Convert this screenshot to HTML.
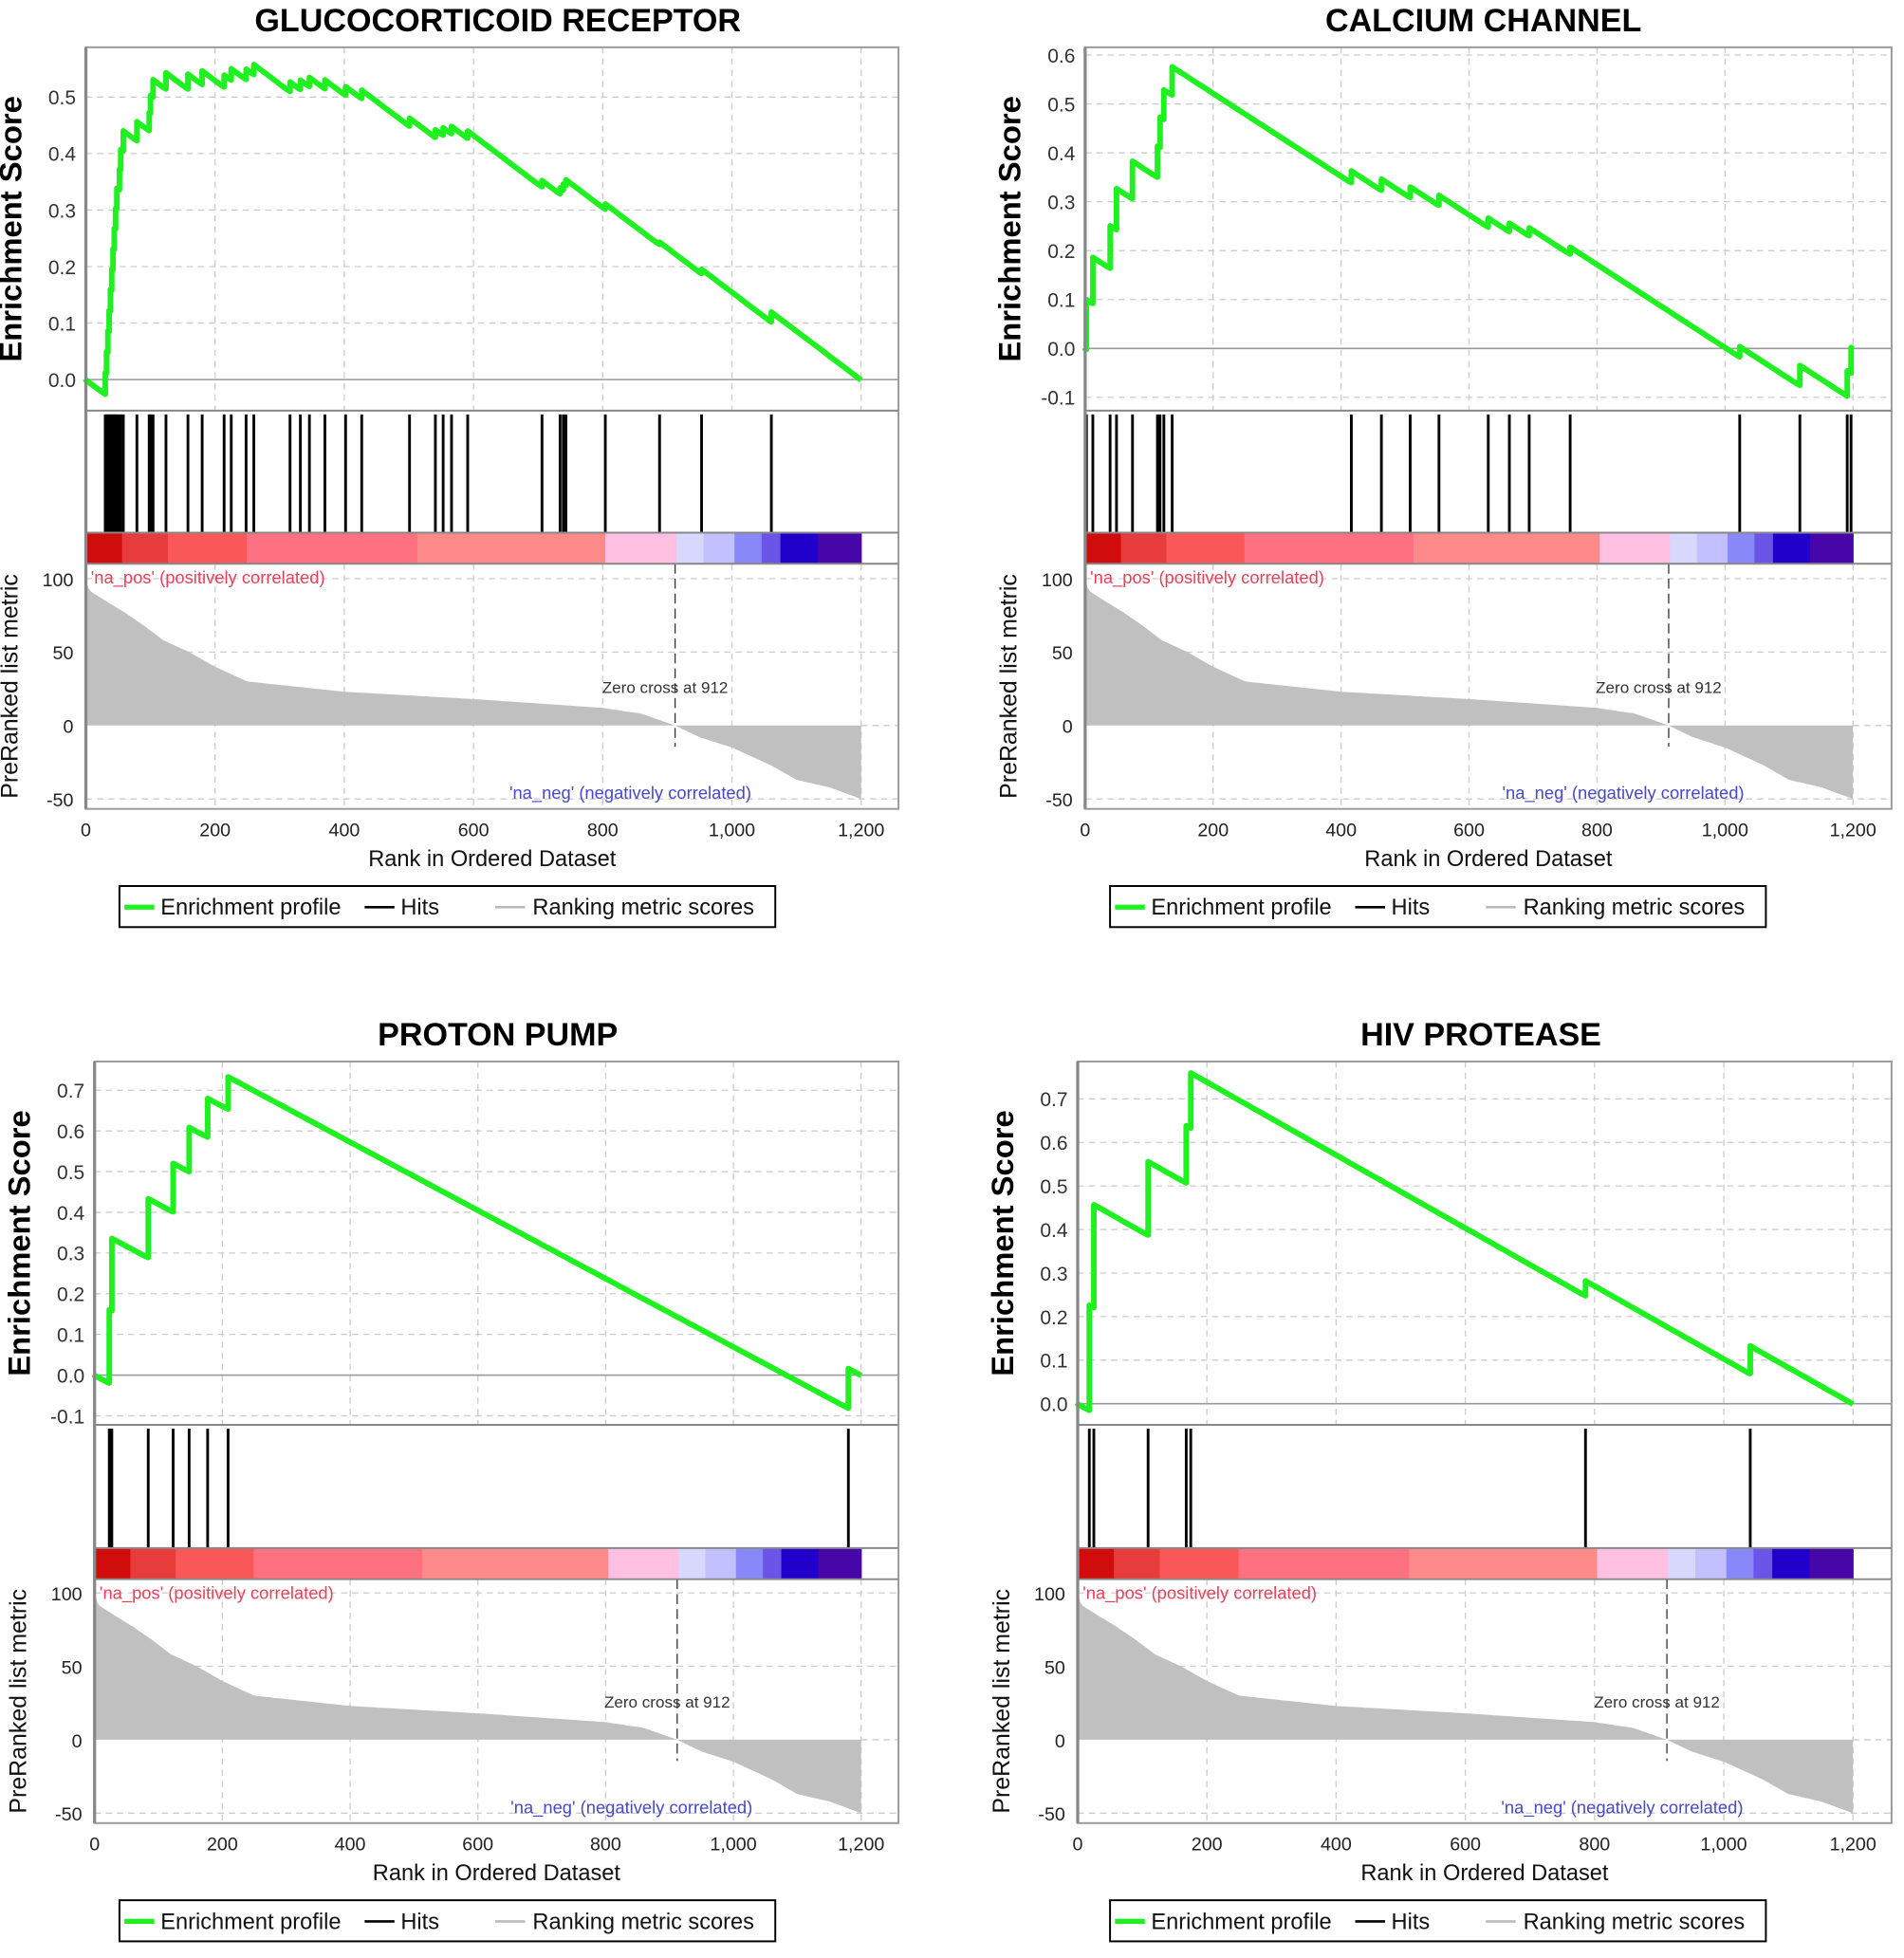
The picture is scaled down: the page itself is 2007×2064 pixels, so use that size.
<!DOCTYPE html>
<html><head><meta charset="utf-8">
<style>
html,body{margin:0;padding:0;background:#fff;}
svg{display:block;}
text{font-family:"Liberation Sans","DejaVu Sans",sans-serif;}
</style></head>
<body>
<svg id="s" xmlns="http://www.w3.org/2000/svg" width="2007" height="2064" viewBox="0 0 1530 1573.4" preserveAspectRatio="none"></svg>
<script>
const S=document.getElementById('s');
const NS='http://www.w3.org/2000/svg';
function el(t,a,txt){const e=document.createElementNS(NS,t);for(const k in a)e.setAttribute(k,a[k]);if(txt!==undefined)e.textContent=txt;S.appendChild(e);return e;}
const N=1200;
const rk=[[0,100],[5,92],[30,85],[60,77],[90,68],[120,58],[160,50],[200,40],[220,36],[250,30],[400,23],[600,18],[800,12],[860,8],[912,0],[950,-8],[1000,-15],[1060,-27],[1100,-37],[1150,-42],[1200,-50]];
function metric(r){for(let i=1;i<rk.length;i++){if(r<=rk[i][0]){const a=rk[i-1],b=rk[i];return a[1]+(b[1]-a[1])*(r-a[0])/(b[0]-a[0]);}}return -50;}
const segs=[0,56,127,249,513,804,914,956,1004,1046,1075,1133,1200];
const cols=['#d10c0c','#e83c3c','#fa5858','#ff7080','#ff8a8a','#ffc0e2','#d8d8ff','#c2c0ff','#8888f8','#6a55e8','#2200cc','#4606a8'];
const panels=[
{title:'GLUCOCORTICOID RECEPTOR',tx:400,L:69,R:722,xe:692,T:38,S:330,Hb:428,Cb:453,B:650,e0:305,es:454,ticks:[0,0.1,0.2,0.3,0.4,0.5],r0:583,pw:0.72,
 hits:[30,32,34,36,38,40,42,44,46,48,52,54,58,79,98,100,104,124,158,180,214,225,248,260,316,332,346,370,402,427,501,541,553,566,591,706,734,739,743,804,888,953,1061],lg:96},
{title:'CALCIUM CHANNEL',tx:1192,L:872,R:1520,xe:1489,T:38,S:330,Hb:428,Cb:453,B:650,e0:280,es:393,ticks:[-0.1,0,0.1,0.2,0.3,0.4,0.5,0.6],r0:583,pw:1,
 hits:[2,12,39,49,74,113,117,123,136,416,463,508,553,630,663,694,758,1023,1117,1191,1197],lg:892},
{title:'PROTON PUMP',tx:400,L:76,R:722,xe:692,T:853,S:1145,Hb:1244,Cb:1269,B:1465,e0:1105,es:327,ticks:[-0.1,0,0.1,0.2,0.3,0.4,0.5,0.6,0.7],r0:1398,pw:1,
 hits:[23,27,84,123,148,177,209,1180],lg:96},
{title:'HIV PROTEASE',tx:1190,L:866,R:1520,xe:1489,T:853,S:1145,Hb:1244,Cb:1269,B:1465,e0:1128,es:350,ticks:[0,0.1,0.2,0.3,0.4,0.5,0.6,0.7],r0:1398,pw:1,
 hits:[18,25,109,168,175,786,1041],lg:892}
];
for(const p of panels){
 const X=r=>p.L+(p.xe-p.L)*r/N;
 const Y=v=>p.e0-p.es*v;
 const RY=v=>p.r0-1.18*v;
 el('text',{x:p.tx,y:p.T-13,'text-anchor':'middle','font-size':26,'font-weight':'bold',fill:'#000'},p.title);
 for(let r=200;r<=1200;r+=200){
  el('line',{x1:X(r),x2:X(r),y1:p.T,y2:p.S,stroke:'#ccc','stroke-dasharray':'5,4'});
  el('line',{x1:X(r),x2:X(r),y1:p.Cb,y2:p.B,stroke:'#ccc','stroke-dasharray':'5,4'});
 }
 for(const t of p.ticks){
  if(t!==0)el('line',{x1:p.L,x2:p.R,y1:Y(t),y2:Y(t),stroke:'#ccc','stroke-dasharray':'5,4'});
  el('text',{x:p.L-8,y:Y(t)+6,'text-anchor':'end','font-size':16,fill:'#333'},t.toFixed(1));
 }
 el('line',{x1:p.L,x2:p.R,y1:Y(0),y2:Y(0),stroke:'#999','stroke-width':1.2});
 for(const t of [100,50,-50])el('line',{x1:p.L,x2:p.R,y1:RY(t),y2:RY(t),stroke:'#ccc','stroke-dasharray':'5,4'});
 el('line',{x1:p.xe,x2:p.R,y1:RY(0),y2:RY(0),stroke:'#ccc','stroke-dasharray':'5,4'});
 for(const t of [100,50,0,-50])el('text',{x:p.L-10,y:RY(t)+6,'text-anchor':'end','font-size':15,fill:'#222'},String(t));
 let d='M'+X(0)+','+RY(0);
 for(let r=0;r<=N;r+=4)d+=' L'+X(r).toFixed(1)+','+RY(metric(r)).toFixed(1);
 d+=' L'+X(N)+','+RY(0)+' Z';
 el('path',{d:d,fill:'#c0c0c0'});
 el('line',{x1:X(912),x2:X(912),y1:p.Cb,y2:p.B-50,stroke:'#333','stroke-dasharray':'8,4'});
 el('text',{x:X(912)-8,y:RY(0)-26,'text-anchor':'middle','font-size':13,fill:'#333'},'Zero cross at 912');
 el('text',{x:p.L+4,y:p.Cb+16,'font-size':14,fill:'#e8405a'},"'na_pos' (positively correlated)");
 el('text',{x:X(1030),y:p.B-8,'text-anchor':'end','font-size':14,fill:'#4848c8'},"'na_neg' (negatively correlated)");
 for(let i=0;i<cols.length;i++)el('rect',{x:X(segs[i]),y:p.Hb,width:X(segs[i+1])-X(segs[i])+0.5,height:p.Cb-p.Hb,fill:cols[i]});
 for(const h of p.hits)el('line',{x1:X(h),x2:X(h),y1:p.S+3,y2:p.Hb,stroke:'#000','stroke-width':2.2});
 const W=r=>Math.pow(Math.abs(metric(r)),p.pw);
 const hs=new Set(p.hits);let sw=0;for(const h of p.hits)sw+=W(h);
 const miss=1/(N-p.hits.length);let es=0;let pts=[[X(0),Y(0)]];
 for(let r=0;r<=N;r++){
  if(hs.has(r)){pts.push([X(r),Y(es)]);es+=W(r)/sw;pts.push([X(r),Y(es)]);}
  else es-=miss;
  if(r%10==0)pts.push([X(r),Y(es)]);
 }
 pts.push([X(N),Y(es)]);
 el('polyline',{points:pts.map(q=>q[0].toFixed(1)+','+q[1].toFixed(1)).join(' '),fill:'none',stroke:'#1ff01f','stroke-width':4.5,'stroke-linejoin':'round'});
 el('rect',{x:p.L,y:p.T,width:p.R-p.L,height:p.B-p.T,fill:'none',stroke:'#999','stroke-width':1.5});
 el('line',{x1:p.L,x2:p.L,y1:p.T,y2:p.B,stroke:'#888','stroke-width':2.5});
 for(const yy of [p.S,p.Hb,p.Cb])el('line',{x1:p.L,x2:p.R,y1:yy,y2:yy,stroke:'#888','stroke-width':1.5});
 const xl=['0','200','400','600','800','1,000','1,200'];
 for(let i=0;i<7;i++)el('text',{x:X(i*200),y:p.B+22,'text-anchor':'middle','font-size':15,fill:'#222'},xl[i]);
 el('text',{x:(p.L+p.R)/2,y:p.B+46,'text-anchor':'middle','font-size':18,fill:'#111'},'Rank in Ordered Dataset');
 const ey=(p.T+p.S)/2,ry=(p.Cb+p.B)/2,tx=p.L-52;
 el('text',{x:tx,y:ey,'text-anchor':'middle','font-size':25,'font-weight':'bold',fill:'#000',transform:`rotate(-90 ${tx} ${ey})`},'Enrichment Score');
 el('text',{x:tx-3,y:ry,'text-anchor':'middle','font-size':19,fill:'#111',transform:`rotate(-90 ${tx-3} ${ry})`},'PreRanked list metric');
 const ly=p.B+62;
 el('rect',{x:p.lg,y:ly,width:527,height:33,fill:'#fff',stroke:'#000','stroke-width':1.5});
 el('line',{x1:p.lg+4,x2:p.lg+28,y1:ly+17,y2:ly+17,stroke:'#1ff01f','stroke-width':4});
 el('text',{x:p.lg+33,y:ly+23,'font-size':18,fill:'#111'},'Enrichment profile');
 el('line',{x1:p.lg+197,x2:p.lg+221,y1:ly+17,y2:ly+17,stroke:'#000','stroke-width':2});
 el('text',{x:p.lg+226,y:ly+23,'font-size':18,fill:'#111'},'Hits');
 el('line',{x1:p.lg+302,x2:p.lg+326,y1:ly+17,y2:ly+17,stroke:'#bbb','stroke-width':2});
 el('text',{x:p.lg+332,y:ly+23,'font-size':18,fill:'#111'},'Ranking metric scores');
}
</script>
</body></html>
